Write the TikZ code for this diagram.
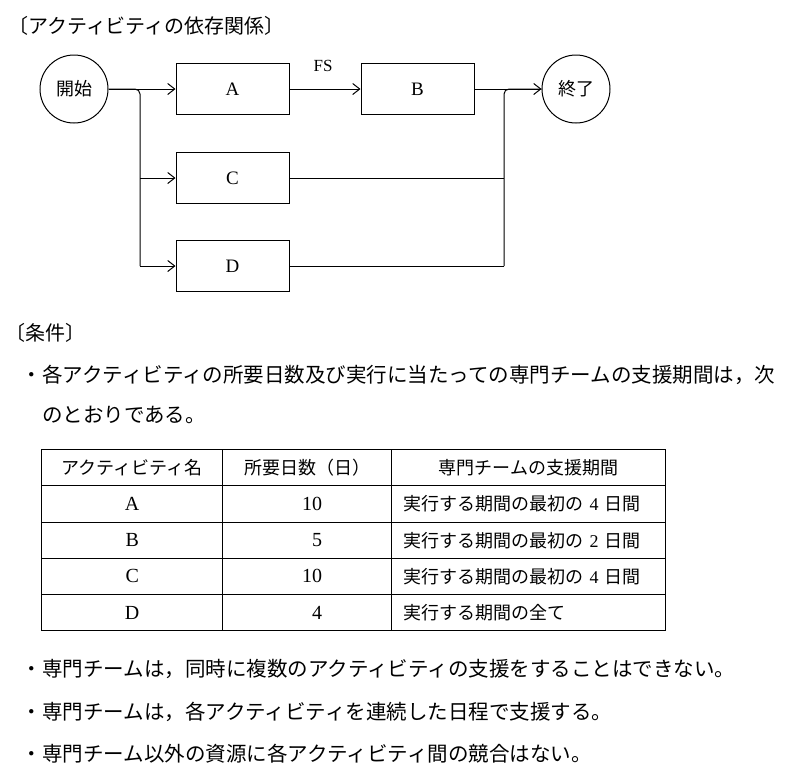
\documentclass[tikz,border=0pt]{standalone}
\usepackage{fontspec}
\setmainfont{Liberation Serif}
\newfontfamily\jpfont{Noto Sans CJK JP}
\usetikzlibrary{matrix,positioning,arrows.meta}

\tikzset{
  act/.style={draw, line width=1pt, minimum width=113pt, minimum height=51pt,
    font=\fontsize{19}{21}\selectfont},
  evt/.style={draw, circle, line width=1pt, minimum size=68pt, inner sep=0pt,
    font=\jpfont\fontsize{18}{20}\selectfont},
  dep/.style={line width=1pt, -{Straight Barb[length=7pt,width=11pt]}},
  link/.style={line width=1pt},
  hdr/.style={anchor=west, inner sep=0pt, font=\jpfont\fontsize{20}{22}\selectfont},
  txt/.style={anchor=west, inner sep=0pt, font=\jpfont\fontsize{20.5}{24}\selectfont},
}

\begin{document}
\begin{tikzpicture}[x=1pt,y=-1pt]
  \useasboundingbox (0,0) rectangle (798,777);
  \node[hdr] (title) at (8,26) {〔アクティビティの依存関係〕};

  \node[evt] (start) at (74,89) {開始};
  \node[act] (A) at (232.5,89) {A};
  \node[act, right=71pt of A] (B) {B};
  \node[act, below=37pt of A] (C) {C};
  \node[act, below=36pt of C] (D) {D};
  \node[evt] (end) at (576,89) {終了};
  \node[font=\fontsize{17}{19}\selectfont] (fs) at (323,66) {FS};

  \coordinate (fork) at (140,89);
  \coordinate (forkC) at (fork |- C);
  \coordinate (forkD) at (fork |- D);
  \coordinate (join) at (504,89);
  \coordinate (joinC) at (join |- C);
  \coordinate (joinD) at (join |- D);

  \draw[dep] (start) -- (A);
  \draw[dep] (A) -- (B);
  \draw[dep] (B) -- (end);
  \draw[link, rounded corners=5pt] (start.east) -| (forkD);
  \draw[dep] (forkC) -- (C);
  \draw[dep] (forkD) -- (D);
  \draw[link] (C) -- (joinC);
  \draw[link] (D) -- (joinD);
  \draw[link, rounded corners=5pt] (joinD) |- (end.west);

  \node[hdr] (cond) at (5,333) {〔条件〕};
  \node[txt] (c1) at (21.6,375) {・各アクティビティの所要日数及び実行に当たっての専門チームの支援期間は，次};
  \node[txt] (c2) at (42,415) {のとおりである。};

  \matrix (tab) [matrix of nodes, anchor=north west, inner sep=0pt,
    column sep=-1pt, row sep=-1pt,
    nodes={draw, line width=1pt, minimum height=36.2pt, anchor=center,
      font=\fontsize{20}{22}\selectfont},
    column 1/.style={nodes={minimum width=181pt}},
    column 2/.style={nodes={minimum width=169pt}},
    column 3/.style={nodes={text width=250pt, inner xsep=12pt, align=left,
      font=\jpfont\fontsize{18}{20}\selectfont}},
    row 1/.style={nodes={font=\jpfont\fontsize{18}{20}\selectfont}},
    row 1 column 3/.style={nodes={align=center}}] at (41,449) {
    アクティビティ名 & 所要日数（日）          & 専門チームの支援期間 \\
    A                & \makebox[30pt][r]{10} & 実行する期間の最初の {\rmfamily 4} 日間 \\
    B                & \makebox[30pt][r]{5}  & 実行する期間の最初の {\rmfamily 2} 日間 \\
    C                & \makebox[30pt][r]{10} & 実行する期間の最初の {\rmfamily 4} 日間 \\
    D                & \makebox[30pt][r]{4}  & 実行する期間の全て \\
  };

  \node[txt] (c3) at (21.6,669) {・専門チームは，同時に複数のアクティビティの支援をすることはできない。};
  \node[txt] (c4) at (21.6,712) {・専門チームは，各アクティビティを連続した日程で支援する。};
  \node[txt] (c5) at (21.6,754) {・専門チーム以外の資源に各アクティビティ間の競合はない。};
\end{tikzpicture}
\end{document}
